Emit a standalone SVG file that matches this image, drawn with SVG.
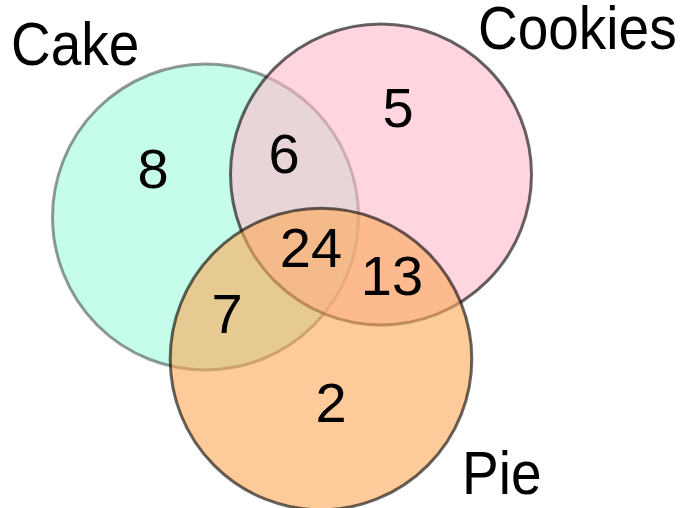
<svg xmlns="http://www.w3.org/2000/svg" width="685" height="508" viewBox="0 0 685 508">
<style>
.set{stroke:#000;stroke-width:3}
.lbl{font-family:"Liberation Sans",Arial,sans-serif;fill:#000}
.num{font-family:"Liberation Sans",Arial,sans-serif;font-size:56px;fill:#000;text-anchor:middle}
</style>
<rect width="685" height="508" fill="#fff"/>
<g id="cake">
<circle class="set" cx="205.5" cy="217" r="153" fill="#c6fcea" stroke-opacity="0.4"/>
</g>
<g id="cookies">
<circle class="set" cx="381" cy="174.5" r="150.5" fill="#ffb9ca" fill-opacity="0.58" stroke-opacity="0.6"/>
</g>
<g id="pie">
<circle class="set" cx="321" cy="359" r="150.8" fill="#fca95a" fill-opacity="0.61" stroke-opacity="0.6"/>
</g>
<g id="labels">
<text class="lbl" font-size="55" transform="translate(11,65) scale(1,1.1)">Cake</text>
<text class="lbl" font-size="55" transform="translate(478,49) scale(1,1.1)">Cookies</text>
<text class="lbl" font-size="55" transform="translate(462,494) scale(1,1.1)">Pie</text>
</g>
<g id="counts">
<text class="num" x="153" y="188">8</text>
<text class="num" x="284" y="173">6</text>
<text class="num" x="398" y="127">5</text>
<text class="num" x="311" y="267">24</text>
<text class="num" x="392" y="295">13</text>
<text class="num" x="227" y="333">7</text>
<text class="num" x="331" y="422">2</text>
</g>
</svg>
